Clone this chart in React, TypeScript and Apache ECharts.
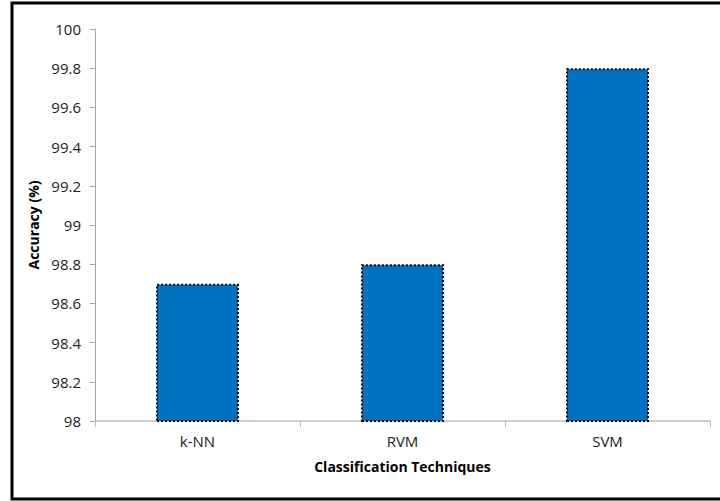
import React, { useEffect, useRef } from "react";
import * as echarts from "echarts";

const categories = ["k-NN", "RVM", "SVM"];
const accuracy = [98.7, 98.8, 99.8];
const yMin = 98;
const yMax = 100;
const yStep = 0.2;

export default function App() {
  const ref = useRef<HTMLDivElement>(null);
  useEffect(() => {
    document.body.style.margin = "0";
    const chart = echarts.init(ref.current!, undefined, { renderer: "svg" });
    const font = "Open Sans, Liberation Sans, sans-serif";
    chart.setOption({
      animation: false,
      backgroundColor: "#ffffff",
      graphic: [
        {
          type: "rect",
          shape: { x: 12, y: 3, width: 740, height: 496 },
          style: { fill: "none", stroke: "#000", lineWidth: 3 },
          silent: true,
        },
      ],
      grid: { left: 95, top: 29, right: 10, bottom: 80 },
      xAxis: {
        type: "category",
        data: categories,
        name: "Classification Techniques",
        nameLocation: "middle",
        nameGap: 38,
        nameTextStyle: { fontFamily: font, fontSize: 14, fontWeight: "bold", color: "#000" },
        axisLine: { lineStyle: { color: "#bfbfbf", width: 1.5 } },
        axisTick: { show: true, alignWithLabel: false, length: 6, lineStyle: { color: "#bfbfbf" } },
        axisLabel: { fontFamily: font, fontSize: 15, color: "#222", margin: 12 },
      },
      yAxis: {
        type: "value",
        min: yMin,
        max: yMax,
        interval: yStep,
        name: "Accuracy (%)",
        nameLocation: "middle",
        nameGap: 55,
        nameTextStyle: { fontFamily: font, fontSize: 14, fontWeight: "bold", color: "#000" },
        axisLine: { show: true, lineStyle: { color: "#a6a6a6", width: 1 } },
        axisTick: { show: true, length: 5, lineStyle: { color: "#a6a6a6" } },
        splitLine: { show: false },
        axisLabel: {
          fontFamily: font,
          fontSize: 15,
          color: "#222",
          margin: 14,
          formatter: (v: number) => String(Math.round(v * 10) / 10),
        },
      },
      series: [
        {
          type: "bar",
          data: accuracy,
          barWidth: 83,
          itemStyle: {
            color: "#0070C0",
            borderColor: "#000",
            borderWidth: 2,
            borderType: [2, 2],
          },
        },
      ],
    });
    return () => chart.dispose();
  }, []);
  return (
    <div
      ref={ref}
      style={{ position: "fixed", left: 0, top: 0, width: 720, height: 501 }}
    />
  );
}
